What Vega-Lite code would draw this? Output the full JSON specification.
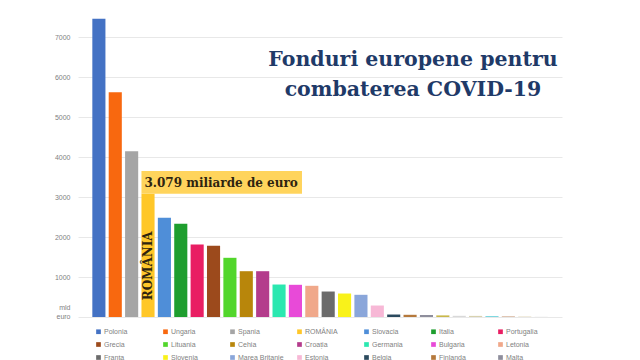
{
  "$schema": "https://vega.github.io/schema/vega-lite/v6.json",
  "width": 484,
  "height": 300,
  "autosize": "none",
  "padding": {"left": 78, "top": 17, "right": 78, "bottom": 43},
  "background": "white",
  "config": {"view": {"stroke": null}},
  "title": {
    "text": ["Fonduri europene pentru", "combaterea COVID-19"],
    "font": "DejaVu Serif",
    "fontSize": 20.5,
    "fontWeight": "bold",
    "color": "#1F3A68",
    "anchor": "end",
    "align": "center",
    "baseline": "top",
    "dx": -149,
    "dy": 83,
    "lineHeight": 30,
    "offset": 0
  },
  "datasets": {
    "tari": [
      {"tara": "Polonia", "val": 7455},
      {"tara": "Ungaria", "val": 5620},
      {"tara": "Spania", "val": 4145},
      {"tara": "ROMÂNIA", "val": 3079},
      {"tara": "Slovacia", "val": 2480},
      {"tara": "Italia", "val": 2330},
      {"tara": "Portugalia", "val": 1812},
      {"tara": "Grecia", "val": 1780},
      {"tara": "Lituania", "val": 1480},
      {"tara": "Cehia", "val": 1145},
      {"tara": "Croația", "val": 1145},
      {"tara": "Germania", "val": 812},
      {"tara": "Bulgaria", "val": 805},
      {"tara": "Letonia", "val": 780},
      {"tara": "Franța", "val": 637},
      {"tara": "Slovenia", "val": 587},
      {"tara": "Marea Britanie", "val": 555},
      {"tara": "Estonia", "val": 287},
      {"tara": "Belgia", "val": 62},
      {"tara": "Finlanda", "val": 55},
      {"tara": "Malta", "val": 50},
      {"tara": "Austria", "val": 40},
      {"tara": "Irlanda", "val": 30},
      {"tara": "Olanda", "val": 28},
      {"tara": "Suedia", "val": 25},
      {"tara": "Danemarca", "val": 20},
      {"tara": "Cipru", "val": 15},
      {"tara": "Luxemburg", "val": 10}
    ],
    "nota": [{"start": "ROMÂNIA", "end": "Bulgaria", "jos": 3079, "sus": 3650, "text": "3.079 miliarde de euro"}]
  },
  "layer": [
    {
      "data": {"name": "tari"},
      "mark": {"type": "bar"},
      "encoding": {
        "x": {
          "field": "tara",
          "type": "nominal",
          "sort": null,
          "scale": {
            "domain": ["Polonia", "Ungaria", "Spania", "ROMÂNIA", "Slovacia", "Italia", "Portugalia", "Grecia", "Lituania", "Cehia", "Croația", "Germania", "Bulgaria", "Letonia", "Franța", "Slovenia", "Marea Britanie", "Estonia", "Belgia", "Finlanda", "Malta", "Austria", "Irlanda", "Olanda", "Suedia", "Danemarca", "Cipru", "Luxemburg"],
            "paddingInner": 0.2,
            "paddingOuter": 0.875
          },
          "axis": null
        },
        "y": {
          "field": "val",
          "type": "quantitative",
          "scale": {"domain": [0, 7500], "nice": false},
          "axis": {
            "title": null,
            "values": [0, 1000, 2000, 3000, 4000, 5000, 6000, 7000],
            "format": "d",
            "grid": true,
            "gridColor": "#E8E8E8",
            "domain": false,
            "ticks": false,
            "labelFont": "Liberation Sans",
            "labelFontSize": 7,
            "labelColor": "#7F7F7F",
            "labelPadding": 8,
            "labelExpr": "datum.value == 0 ? ['mld', 'euro'] : datum.label",
            "labelBaseline": "middle",
            "labelOffset": {"condition": {"test": "datum.value == 0", "value": -10}, "value": 0}
          }
        },
        "color": {
          "field": "tara",
          "type": "nominal",
          "sort": null,
          "scale": {
            "domain": ["Polonia", "Ungaria", "Spania", "ROMÂNIA", "Slovacia", "Italia", "Portugalia", "Grecia", "Lituania", "Cehia", "Croația", "Germania", "Bulgaria", "Letonia", "Franța", "Slovenia", "Marea Britanie", "Estonia", "Belgia", "Finlanda", "Malta", "Austria", "Irlanda", "Olanda", "Suedia", "Danemarca", "Cipru", "Luxemburg"],
            "range": ["#4472C4", "#F8680F", "#A5A5A5", "#FFC729", "#4F8ED8", "#1E9E2E", "#E91E63", "#9C4A1C", "#52D62B", "#B8860B", "#B43C8C", "#2BE8B0", "#E84AD8", "#F0A88A", "#6B6B6B", "#F9F21A", "#8AA6DA", "#F7B8D6", "#2B4A5E", "#B5793C", "#8E8E9C", "#C9B84A", "#D9D9D9", "#D8D2B0", "#7FD8E0", "#D8B8A0", "#E8E0C8", "#EFEFEF"]
          },
          "legend": {
            "orient": "none",
            "legendX": 17,
            "legendY": 311,
            "direction": "horizontal",
            "columns": 7,
            "title": null,
            "values": ["Polonia", "Ungaria", "Spania", "ROMÂNIA", "Slovacia", "Italia", "Portugalia", "Grecia", "Lituania", "Cehia", "Croația", "Germania", "Bulgaria", "Letonia", "Franța", "Slovenia", "Marea Britanie", "Estonia", "Belgia", "Finlanda", "Malta"],
            "symbolType": "square",
            "symbolSize": 22,
            "symbolStrokeWidth": 0,
            "labelFont": "Liberation Sans",
            "labelFontSize": 7,
            "labelColor": "#7F7F7F",
            "labelOffset": 2,
            "labelLimit": 55,
            "gridAlign": "all",
            "columnPadding": 12,
            "rowPadding": 5
          }
        }
      }
    },
    {
      "data": {"name": "nota"},
      "mark": {"type": "rect", "color": "#FFD45C"},
      "encoding": {
        "x": {"field": "start", "type": "nominal", "bandPosition": 0},
        "x2": {"field": "end", "bandPosition": 1},
        "y": {"field": "jos", "type": "quantitative"},
        "y2": {"field": "sus"}
      }
    },
    {
      "data": {"name": "nota"},
      "mark": {"type": "text", "align": "left", "baseline": "middle", "dx": 3, "font": "DejaVu Serif", "fontWeight": "bold", "fontSize": 12, "color": "#2E2410"},
      "encoding": {
        "x": {"field": "start", "type": "nominal", "bandPosition": 0},
        "y": {"datum": 3360},
        "text": {"field": "text"}
      }
    },
    {
      "data": {"name": "nota"},
      "mark": {"type": "text", "align": "center", "baseline": "middle", "angle": 270, "font": "DejaVu Serif", "fontWeight": "bold", "fontSize": 12, "color": "#2E2410"},
      "encoding": {
        "x": {"field": "start", "type": "nominal"},
        "y": {"datum": 1280},
        "text": {"value": "ROMÂNIA"}
      }
    }
  ]
}
